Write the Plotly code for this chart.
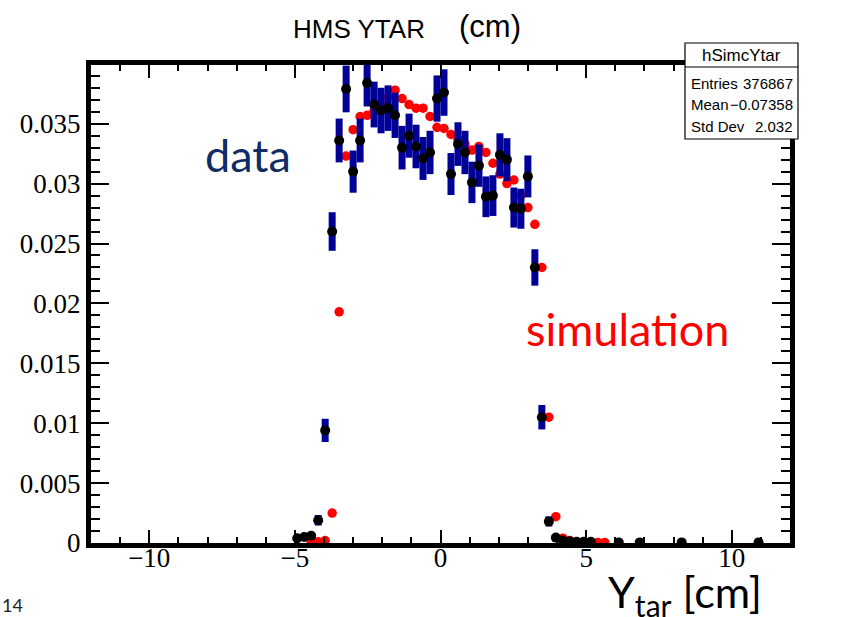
import plotly.graph_objects as go

# ---------------- data ----------------
data_x = [-4.92, -4.68, -4.44, -4.20, -3.96, -3.72, -3.48, -3.24, -3.00, -2.76,
          -2.52, -2.28, -2.04, -1.80, -1.56, -1.32, -1.08, -0.84, -0.60, -0.36,
          -0.12, 0.12, 0.36, 0.60, 0.84, 1.08, 1.32, 1.56, 1.80, 2.04,
          2.28, 2.52, 2.76, 3.00, 3.24, 3.48, 3.72, 3.96, 4.20, 4.44,
          4.68, 4.92, 5.16, 6.12, 6.84, 8.28, 10.92]
data_y = [0.0004, 0.0005, 0.0006, 0.0019, 0.0094, 0.0260, 0.0336, 0.0379, 0.0310, 0.0336,
          0.0384, 0.0366, 0.0361, 0.0363, 0.0357, 0.0330, 0.0340, 0.0331, 0.0321, 0.0326,
          0.0371, 0.0376, 0.0308, 0.0333, 0.0326, 0.0301, 0.0315, 0.0289, 0.0290, 0.0324,
          0.0320, 0.0280, 0.0279, 0.0306, 0.0230, 0.0105, 0.0018, 0.00045, 0.0002, 0.00015,
          0.0001, 0.0001, 0.0001, 0.00005, 0.00005, 0.00005, 0.00005]
data_err = [0.0002, 0.00022, 0.00025, 0.00044, 0.00097, 0.00161, 0.00183, 0.00195, 0.00176, 0.00183,
            0.00196, 0.00191, 0.0019, 0.0019, 0.00189, 0.00182, 0.00184, 0.00182, 0.00179, 0.00181,
            0.00193, 0.00194, 0.00175, 0.00182, 0.00181, 0.00173, 0.00177, 0.0017, 0.0017, 0.0018,
            0.00179, 0.00167, 0.00167, 0.00175, 0.00152, 0.00102, 0.00042, 0.00021, 0.00014, 0.00012,
            0.0001, 0.0001, 0.0001, 0.00007, 0.00007, 0.00007, 0.00007]

sim_x = [-4.44, -4.20, -3.96, -3.72, -3.48, -3.24, -3.00, -2.76, -2.52, -2.28,
         -2.04, -1.80, -1.56, -1.32, -1.08, -0.84, -0.60, -0.36, -0.12, 0.12,
         0.36, 0.60, 0.84, 1.08, 1.32, 1.56, 1.80, 2.04, 2.28, 2.52,
         2.76, 3.00, 3.24, 3.48, 3.72, 3.96, 4.20, 4.44, 4.68, 4.92,
         5.16, 5.40, 5.64]
sim_y = [0.00005, 0.0001, 0.0002, 0.0025, 0.0193, 0.0323, 0.0345, 0.0356, 0.0357, 0.0361,
         0.0366, 0.0372, 0.0378, 0.0371, 0.0366, 0.0363, 0.0363, 0.0356, 0.0347, 0.0346,
         0.0341, 0.0337, 0.0333, 0.0328, 0.0331, 0.0326, 0.0317, 0.0308, 0.0300, 0.0303,
         0.0290, 0.0280, 0.0266, 0.0230, 0.0105, 0.0022, 0.0004, 0.0002, 0.0001, 0.0001,
         0.0001, 0.00005, 0.00005]

stats_labels = ["Entries", "Mean", "Std Dev"]
stats_values = ["376867", "\u22120.07358", "2.032"]

# ---------------- layout geometry (pixels) ----------------
W, H = 856, 617
L, R, T, B = 91, 790, 65, 543


def px(xp):
    return (xp - L) / (R - L)


def py(yp):
    return (B - yp) / (B - T)


fig = go.Figure()

fig.add_trace(go.Scatter(
    x=sim_x, y=sim_y, mode="markers",
    marker=dict(color="#ff0000", size=9.5, line=dict(width=0)),
    showlegend=False, hoverinfo="skip"))

fig.add_trace(go.Scatter(
    x=data_x, y=data_y, mode="markers",
    marker=dict(color="#000000", size=10, line=dict(width=0)),
    error_y=dict(type="data", array=data_err, visible=True,
                 color="#000099", thickness=7, width=0),
    showlegend=False, hoverinfo="skip"))

axis_common = dict(
    showline=True, linewidth=5, linecolor="black", mirror="allticks",
    ticks="inside", tickcolor="black", tickwidth=1.5,
    showgrid=False, zeroline=False, automargin=False,
    tickfont=dict(family="Liberation Serif", size=27, color="black"),
)

fig.update_xaxes(range=[-12, 12], tick0=0, dtick=5, ticklen=13,
                 ticklabelstandoff=-13,
                 minor=dict(dtick=1, ticks="inside", ticklen=6,
                            tickcolor="black", tickwidth=1.5, showgrid=False),
                 **axis_common)
fig.update_yaxes(range=[0, 0.0399], tick0=0, dtick=0.005, ticklen=18,
                 minor=dict(dtick=0.001, ticks="inside", ticklen=9,
                            tickcolor="black", tickwidth=1.5, showgrid=False),
                 **axis_common)

shapes = [
    dict(type="rect", xref="paper", yref="paper",
         x0=px(685), x1=px(798), y0=py(139), y1=py(43),
         line=dict(color="black", width=1.2), fillcolor="white", layer="above"),
    dict(type="line", xref="paper", yref="paper",
         x0=px(685), x1=px(798), y0=py(67), y1=py(67),
         line=dict(color="black", width=1.2), layer="above"),
]

ann = []
ann.append(dict(text="hSimcYtar", x=px(741), y=py(55), xref="paper", yref="paper",
                showarrow=False, xanchor="center", yanchor="middle",
                font=dict(family="Liberation Sans", size=17, color="black")))
rows_y = [83, 104, 127]
for lab, val, yy in zip(stats_labels, stats_values, rows_y):
    ann.append(dict(text=lab, x=px(689), y=py(yy), xref="paper", yref="paper",
                    showarrow=False, xanchor="left", yanchor="middle",
                    font=dict(family="Liberation Sans", size=15, color="black")))
    ann.append(dict(text=val, x=px(795), y=py(yy), xref="paper", yref="paper",
                    showarrow=False, xanchor="right", yanchor="middle",
                    font=dict(family="Liberation Sans", size=15, color="black")))

ann.append(dict(text="HMS YTAR", x=px(359), y=py(29), xref="paper", yref="paper",
                showarrow=False, xanchor="center", yanchor="middle",
                font=dict(family="Liberation Sans", size=26, color="black")))
ann.append(dict(text="(cm)", x=px(490), y=py(27), xref="paper", yref="paper",
                showarrow=False, xanchor="center", yanchor="middle",
                font=dict(family="Liberation Sans", size=31, color="black")))
ann.append(dict(text="data", x=px(248), y=py(155), xref="paper", yref="paper",
                showarrow=False, xanchor="center", yanchor="middle",
                font=dict(family="Lato", size=45, color="#0f2c66")))
ann.append(dict(text="simulation", x=px(627), y=py(329), xref="paper", yref="paper",
                showarrow=False, xanchor="center", yanchor="middle",
                font=dict(family="Lato", size=45, color="#ff0000")))
ann.append(dict(text="Y<sub>tar</sub> [cm]", x=px(685), y=py(594), xref="paper", yref="paper",
                showarrow=False, xanchor="center", yanchor="middle",
                font=dict(family="Lato", size=43, color="black")))
ann.append(dict(text="14", x=px(12), y=py(605), xref="paper", yref="paper",
                showarrow=False, xanchor="center", yanchor="middle",
                font=dict(family="Lato", size=18, color="#222222")))

fig.update_layout(
    width=W, height=H,
    margin=dict(l=L, r=W - R, t=T, b=H - B, pad=0, autoexpand=False),
    paper_bgcolor="white", plot_bgcolor="white",
    shapes=shapes, annotations=ann, showlegend=False,
)

fig.write_html("out.html", config={"displayModeBar": False},
               post_script="document.body.style.margin='0';document.body.style.padding='0';")
